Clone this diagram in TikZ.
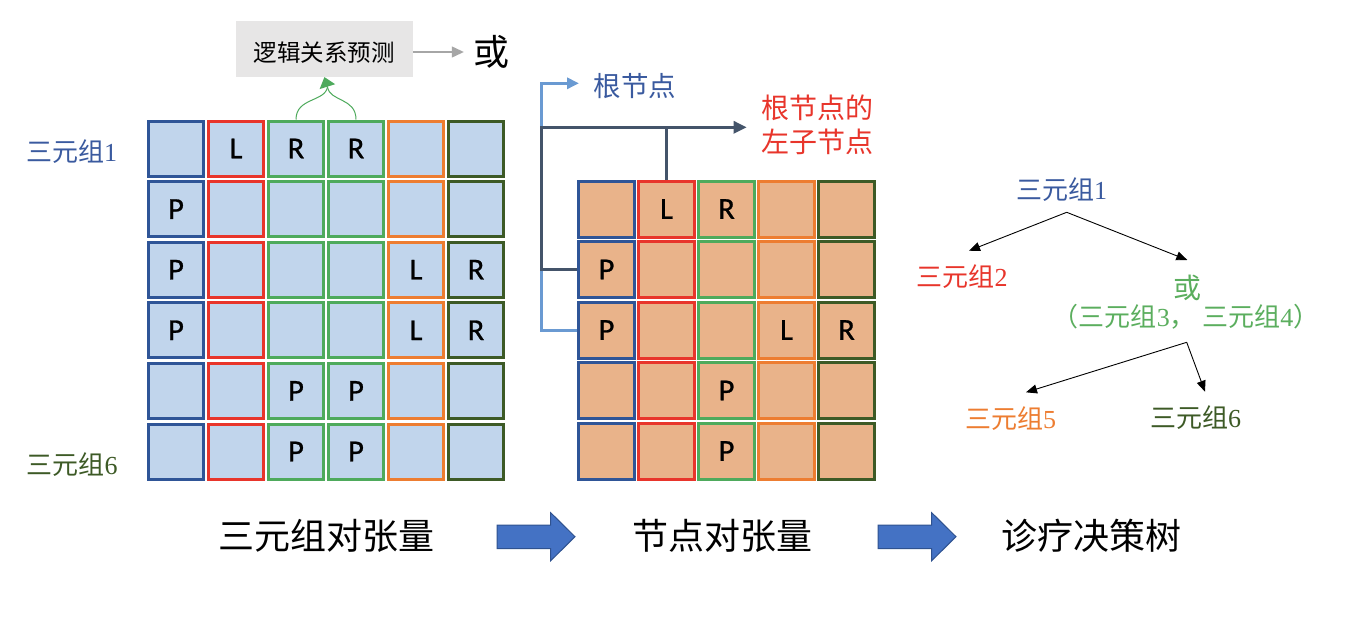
\documentclass[tikz,border=0pt]{standalone}
\usepackage{fontspec}
\setmainfont{Liberation Serif}
\newfontfamily\cjk{Noto Sans CJK SC}
\newfontfamily\calfont[FakeBold=0.8]{Carlito}
\usetikzlibrary{arrows.meta}
\definecolor{cblue}{HTML}{2F5597}
\definecolor{cred}{HTML}{E8352B}
\definecolor{cgreen}{HTML}{4EAA5C}
\definecolor{corange}{HTML}{ED7D31}
\definecolor{cdkgreen}{HTML}{3D5A26}
\definecolor{lbfill}{HTML}{C1D5EC}
\definecolor{orfill}{HTML}{E9B38A}
\definecolor{boxgray}{HTML}{E7E6E6}
\definecolor{arrgray}{HTML}{A6A6A6}
\definecolor{lbline}{HTML}{6A9AD2}
\definecolor{dkline}{HTML}{44546A}
\definecolor{tblue}{HTML}{3A5A9F}
\definecolor{tgreen}{HTML}{5BAE5E}
\definecolor{blkfill}{HTML}{4472C4}
\definecolor{blkedge}{HTML}{2F528F}
\newcommand\zh[1]{{\cjk #1}}
\begin{document}
\begin{tikzpicture}[x=1pt,y=-1pt,
  cellA/.style={draw=#1, line width=3pt, fill=lbfill, minimum size=55pt, inner sep=0pt, font=\calfont\fontsize{30.5}{32}\selectfont},
  cellB/.style={draw=#1, line width=3pt, fill=orfill, minimum size=56pt, inner sep=0pt, font=\calfont\fontsize{30.5}{32}\selectfont},
  fs/.style={font=\cjk\fontsize{#1}{#1}\selectfont, inner sep=0pt},
  tree/.style={font=\fontsize{26}{30}\selectfont, inner sep=0pt},
  tarrow/.style={draw=black, line width=0.9pt, -{Triangle[length=11pt,width=9pt]}},
  gline/.style={draw=cgreen, line width=1pt},
  blockarrow/.style={fill=blkfill, draw=blkedge, line width=1pt}
]
\useasboundingbox (0,0) rectangle (1360,616);
\fill[white] (0,0) rectangle (1360,616);

% left grid
\foreach \c/\col/\items in {0/cblue/{{},P,P,P,{},{}},1/cred/{L,{},{},{},{},{}},2/cgreen/{R,{},{},{},P,P},3/cgreen/{R,{},{},{},P,P},4/corange/{{},{},L,L,{},{}},5/cdkgreen/{{},{},R,R,{},{}}}{
  \foreach \t [count=\r from 0] in \items {
    \node[cellA=\col] (A-\r-\c) at ({176+60*\c},{148.5+60.6*\r}) {\t};
  }
}

% middle grid
\foreach \c/\col/\items in {0/cblue/{{},P,P,{},{}},1/cred/{L,{},{},{},{}},2/cgreen/{R,{},{},P,P},3/corange/{{},{},L,{},{}},4/cdkgreen/{{},{},R,{},{}}}{
  \foreach \t [count=\r from 0] in \items {
    \node[cellB=\col] (B-\r-\c) at ({606.5+60*\c},{209+60.5*\r}) {\t};
  }
}

% prediction box
\node[fill=boxgray, minimum width=177pt, minimum height=56pt, fs=23.5] (pred) at (324.4,48.9) {\raisebox{-3.5pt}[\height][\depth]{逻辑关系预测}};
\node[fs=36] (or1) at (491.5,52) {或};
\draw[arrgray, line width=1.2pt, -{Triangle[length=12pt,width=11pt]}, shorten >=9.5pt] (pred.east |- or1.west) -- (or1.west);

% green brace arrow
\coordinate (gm) at (327.5,87);
\draw[gline] (A-0-2.north) .. controls +(0,-22) and +(-2.5,15) .. (gm);
\draw[gline] (A-0-3.north) .. controls +(0,-22) and +(2.5,15) .. (gm);
\draw[gline, -{Triangle[length=10pt,width=16pt]}] (gm) -- (pred.south);

% middle connectors
\coordinate (bc) at (541.7,83.3);
\coordinate (btip) at (579,83.3);
\draw[lbline, line width=3pt, -{Triangle[length=12pt,width=11pt]}] (B-2-0.west) -| (bc) -- (btip);
\coordinate (dc) at (541.7,127.3);
\coordinate (dtip) at (746.7,127.3);
\draw[dkline, line width=3pt, -{Triangle[length=13pt,width=12pt]}] (B-1-0.west) -| (dc) -- (dtip);
\draw[dkline, line width=3pt] (B-0-1.north) -- (B-0-1.north |- dc);

\node[fs=27.5, text=tblue] (rootlbl) at (635,86) {根节点};
\node[fs=28, text=cred, align=left, font=\cjk\fontsize{28}{33.4}\selectfont] (leftlbl) at (817.7,125) {根节点的\\左子节点};

% left labels
\node[tree, text=tblue] (lab1) at (71.5,152) {\zh{三元组}1};
\node[tree, text=cdkgreen] (lab6) at (72,465) {\zh{三元组}6};

% tree
\node[tree, text=tblue] (t1) at (1061.5,190) {\zh{三元组}1};
\node[tree, text=cred] (t2) at (962.2,276.7) {\zh{三元组}2};
\node[tree, text=tgreen, font=\cjk\fontsize{28}{30}\selectfont] (tor) at (1187,288.3) {或};
\node[tree, text=tgreen] (tpair) at (1186,316.7) {\zh{（三元组}3\zh{，} \zh{三元组}4\zh{）}};
\node[tree, text=corange] (t5) at (1010.5,418.3) {\zh{三元组}5};
\node[tree, text=cdkgreen] (t6) at (1195.5,418) {\zh{三元组}6};
\draw[tarrow] ([xshift=5.2pt,yshift=-22.3pt]t1.center) -- ([xshift=6.8pt,yshift=26pt]t2.center);
\draw[tarrow] ([xshift=5.2pt,yshift=-22.3pt]t1.center) -- ([xshift=0.3pt,yshift=28.3pt]tor.center);
\draw[tarrow] ([xshift=0.7pt,yshift=-25.6pt]tpair.center) -- ([xshift=15.5pt,yshift=26pt]t5.center);
\draw[tarrow] ([xshift=0.7pt,yshift=-25.6pt]tpair.center) -- ([xshift=9.5pt,yshift=26.3pt]t6.center);

% bottom labels
\node[fs=36] (bt1) at (326,536) {三元组对张量};
\node[fs=36] (bt2) at (722,536) {节点对张量};
\node[fs=36] (bt3) at (1091,536) {诊疗决策树};

% block arrows
\draw[blockarrow] (497,525) -- (550.7,525) -- (550.7,512.7) -- (575,536.7) -- (550.7,560.7) -- (550.7,548.5) -- (497,548.5) -- cycle;
\draw[blockarrow] (878,525) -- (931.7,525) -- (931.7,512.7) -- (956,536.7) -- (931.7,560.7) -- (931.7,548.5) -- (878,548.5) -- cycle;
\end{tikzpicture}
\end{document}
